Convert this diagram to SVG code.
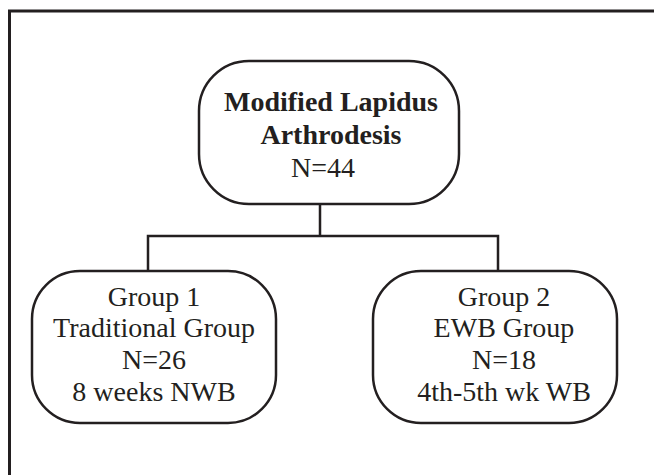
<svg xmlns="http://www.w3.org/2000/svg" width="654" height="475" viewBox="0 0 654 475">
<style>
.box{fill:#fff;stroke:#231f20;stroke-width:2.5}
.ln{fill:none;stroke:#231f20;stroke-width:2.5}
text{font-family:"Liberation Serif","Times New Roman",serif;font-size:28px;fill:#231f20;text-anchor:middle}
.b{font-weight:bold}
</style>
<rect x="0" y="0" width="654" height="475" fill="#fff"/>
<rect x="9.5" y="11" width="700" height="520" fill="none" stroke="#231f20" stroke-width="3"/>
<g id="connectors">
<path class="ln" d="M320 204 V236 M148 271 V236 H498 V271"/>
</g>
<g id="top">
<rect class="box" x="199" y="61" width="260" height="143" rx="50" ry="50"/>
<text class="b" x="331" y="111">Modified Lapidus</text>
<text class="b" x="331" y="144">Arthrodesis</text>
<text x="323" y="177">N=44</text>
</g>
<g id="group1">
<rect class="box" x="32" y="271" width="244" height="152" rx="48" ry="48"/>
<text x="154" y="306">Group 1</text>
<text x="154" y="337">Traditional Group</text>
<text x="154" y="369">N=26</text>
<text x="154" y="401">8 weeks NWB</text>
</g>
<g id="group2">
<rect class="box" x="373" y="271" width="244" height="152" rx="48" ry="48"/>
<text x="504" y="306">Group 2</text>
<text x="504" y="337">EWB Group</text>
<text x="504" y="369">N=18</text>
<text x="504" y="401">4th-5th wk WB</text>
</g>
</svg>
